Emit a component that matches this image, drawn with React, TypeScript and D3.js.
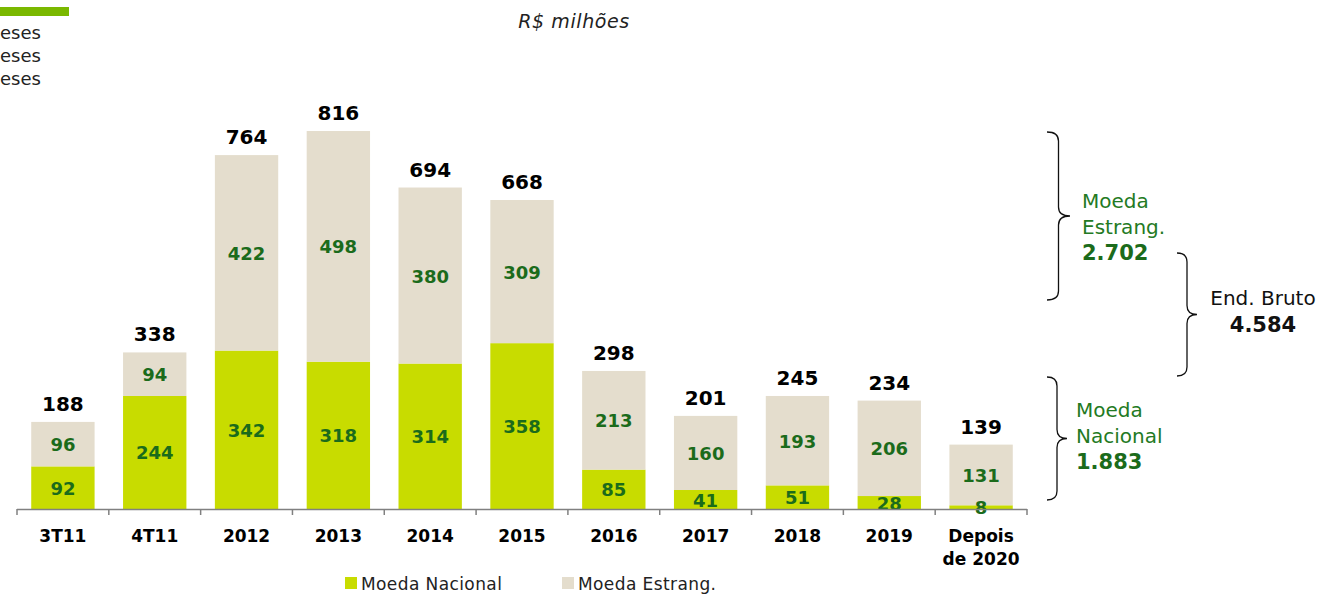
import React from "react";
import * as d3 from "d3";

const categories = ["3T11", "4T11", "2012", "2013", "2014", "2015", "2016", "2017", "2018", "2019", "Depois de 2020"];
const nacional = [92, 244, 342, 318, 314, 358, 85, 41, 51, 28, 8];
const estrang = [96, 94, 422, 498, 380, 309, 213, 160, 193, 206, 131];
const totals = [188, 338, 764, 816, 694, 668, 298, 201, 245, 234, 139];
const seriesNames = ["Moeda Nacional", "Moeda Estrang."];
const clippedLegend = ["eses", "eses", "eses"];

const W = 1324, H = 595;
const FONT = "Verdana, 'DejaVu Sans', sans-serif";
const GREEN = "#c8dc00";
const BEIGE = "#e4ddcd";
const LABEL = "#1b6b1b";
const NOTE = "#237a23";

function brace(x0: number, xTip: number, y0: number, y1: number) {
  const ym = (y0 + y1) / 2;
  const xb = x0 + (xTip - x0) * 0.5;
  const r = 9;
  const p = d3.path();
  p.moveTo(x0, y0);
  p.quadraticCurveTo(xb, y0, xb, y0 + r);
  p.lineTo(xb, ym - r);
  p.quadraticCurveTo(xb, ym, xTip, ym);
  p.quadraticCurveTo(xb, ym, xb, ym + r);
  p.lineTo(xb, y1 - r);
  p.quadraticCurveTo(xb, y1, x0, y1);
  return p.toString();
}

export default function App() {
  const x = d3.scaleBand<string>().domain(categories).range([17, 1027]).paddingInner(0.31).paddingOuter(0.155);
  const y = d3.scaleLinear().domain([0, 816]).range([509, 131]);
  const stack = d3.stack<number>().keys(["n", "e"]).value((i, k) => (k === "n" ? nacional[i] : estrang[i]));
  const series = stack(categories.map((_, i) => i));
  const colors = [GREEN, BEIGE];
  const step = (1027 - 17) / categories.length;
  const ticks = d3.range(categories.length + 1).map((i) => 17 + i * step);

  return (
    <svg width={W} height={H} style={{ position: "absolute", left: 0, top: 0, fontFamily: FONT }}>
      <rect x={0} y={7} width={69} height={9} fill="#7ab800" />
      {clippedLegend.map((t, i) => (
        <text key={i} x={0} y={39 + i * 23} fontSize={18} fill="#222">{t}</text>
      ))}
      <text x={574} y={28} fontSize={19} fontStyle="italic" textAnchor="middle" fill="#222" letterSpacing={0.6}>R$ milhões</text>

      {series.map((s, si) =>
        s.map((d, i) => (
          <rect key={si + "-" + i} x={x(categories[i])!} width={x.bandwidth()} y={y(d[1])} height={y(d[0]) - y(d[1])} fill={colors[si]} />
        ))
      )}
      {series.map((s, si) =>
        s.map((d, i) => (
          <text key={"l" + si + "-" + i} x={x(categories[i])! + x.bandwidth() / 2} y={(y(d[0]) + y(d[1])) / 2 + 7}
            fontSize={18} fontWeight="bold" textAnchor="middle" fill={LABEL}>
            {si === 0 ? nacional[i] : estrang[i]}
          </text>
        ))
      )}
      {totals.map((t, i) => (
        <text key={"t" + i} x={x(categories[i])! + x.bandwidth() / 2} y={y(t) - 11} fontSize={20} fontWeight="bold" textAnchor="middle" fill="#000">{t}</text>
      ))}

      <line x1={17} x2={1027} y1={509.5} y2={509.5} stroke="#808080" strokeWidth={1.5} />
      {ticks.map((t, i) => (
        <line key={"k" + i} x1={t} x2={t} y1={509} y2={515} stroke="#808080" strokeWidth={1.5} />
      ))}
      {categories.map((c, i) => {
        const cx = x(c)! + x.bandwidth() / 2;
        const parts = c === "Depois de 2020" ? ["Depois", "de 2020"] : [c];
        return (
          <text key={"c" + i} x={cx} y={542} fontSize={17} fontWeight="bold" textAnchor="middle" fill="#000">
            {parts.map((p, j) => (
              <tspan key={j} x={cx} dy={j === 0 ? 0 : 23}>{p}</tspan>
            ))}
          </text>
        );
      })}

      {seriesNames.map((n, i) => (
        <g key={"lg" + i} transform={`translate(${345 + i * 217},0)`}>
          <rect x={0} y={577} width={12} height={12} fill={colors[i]} />
          <text x={16} y={590} fontSize={17} letterSpacing={0.4} fill="#222">{n}</text>
        </g>
      ))}

      <path d={brace(1047, 1070, 132, 300)} fill="none" stroke="#111" strokeWidth={1.3} />
      <path d={brace(1177, 1197, 253, 376)} fill="none" stroke="#111" strokeWidth={1.3} />
      <path d={brace(1047, 1067, 377, 500)} fill="none" stroke="#111" strokeWidth={1.3} />

      <text x={1082} y={208} fontSize={20} fill={NOTE}>Moeda</text>
      <text x={1082} y={234} fontSize={20} fill={NOTE}>Estrang.</text>
      <text x={1082} y={260} fontSize={21} fontWeight="bold" fill={LABEL}>2.702</text>

      <text x={1263} y={305} fontSize={20} textAnchor="middle" fill="#111">End. Bruto</text>
      <text x={1263} y={332} fontSize={21} fontWeight="bold" textAnchor="middle" fill="#111">4.584</text>

      <text x={1076} y={417} fontSize={20} fill={NOTE}>Moeda</text>
      <text x={1076} y={443} fontSize={20} fill={NOTE}>Nacional</text>
      <text x={1076} y={469} fontSize={21} fontWeight="bold" fill={LABEL}>1.883</text>
    </svg>
  );
}
